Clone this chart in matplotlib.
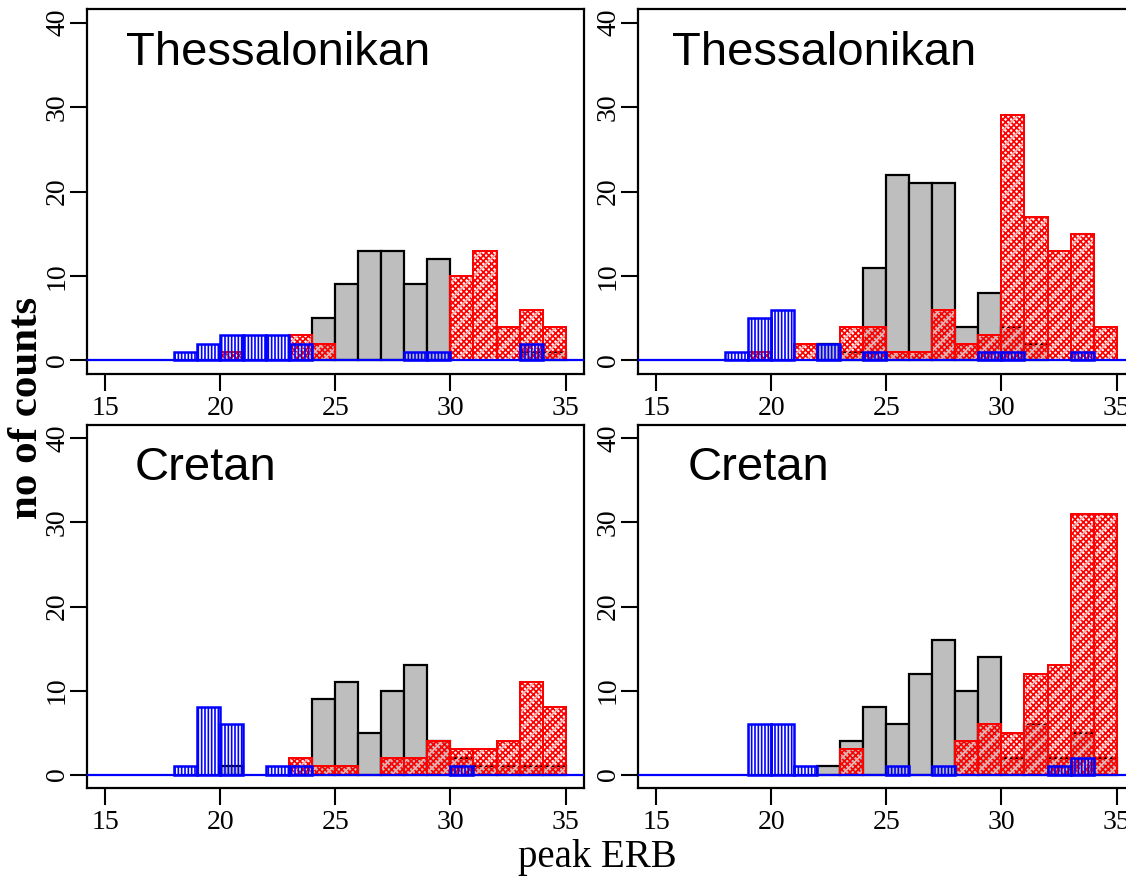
import numpy as np
import matplotlib
matplotlib.use("Agg")
import matplotlib.pyplot as plt

# ---------------- data ----------------
bin_lefts = list(range(18, 35))          # bins 18-19, 19-20, ..., 34-35
x_ticks = [15, 20, 25, 30, 35]
y_ticks = [0, 10, 20, 30, 40]
panel_titles = ["Thessalonikan", "Thessalonikan", "Cretan", "Cretan"]
x_label = "peak ERB"
y_label = "no of counts"

gray_tl = [0, 0, 0, 0, 0, 0, 5, 9, 13, 13, 9, 12, 0, 0, 0, 1, 1]
red_tl  = [0, 0, 1, 0, 0, 3, 2, 0, 0, 0, 0, 0, 10, 13, 4, 6, 4]
blue_tl = [1, 2, 3, 3, 3, 2, 0, 0, 0, 0, 1, 1, 0, 0, 0, 2, 0]

gray_tr = [0, 0, 0, 0, 2, 1, 11, 22, 21, 21, 4, 8, 4, 2, 0, 0, 0]
red_tr  = [0, 1, 0, 2, 0, 4, 4, 1, 1, 6, 2, 3, 29, 17, 13, 15, 4]
blue_tr = [1, 5, 6, 0, 2, 0, 1, 0, 0, 0, 0, 1, 1, 0, 0, 1, 0]

gray_bl = [0, 0, 1, 0, 0, 0, 9, 11, 5, 10, 13, 4, 2, 1, 1, 1, 1]
red_bl  = [0, 0, 0, 0, 0, 2, 1, 1, 0, 2, 2, 4, 3, 3, 4, 11, 8]
blue_bl = [1, 8, 6, 0, 1, 1, 0, 0, 0, 0, 0, 0, 1, 0, 0, 0, 0]

gray_br = [0, 0, 0, 0, 1, 4, 8, 6, 12, 16, 10, 14, 2, 6, 2, 5, 2]
red_br  = [0, 0, 0, 0, 0, 3, 0, 0, 0, 0, 4, 6, 5, 12, 13, 31, 31]
blue_br = [0, 6, 6, 1, 0, 0, 0, 1, 0, 1, 0, 0, 0, 0, 1, 2, 0]

panels = [
    (gray_tl, red_tl, blue_tl),
    (gray_tr, red_tr, blue_tr),
    (gray_bl, red_bl, blue_bl),
    (gray_br, red_br, blue_br),
]

# ---------------- style ----------------
plt.rcParams["hatch.linewidth"] = 1.2
serif = ["Liberation Serif", "DejaVu Serif"]
sans = ["Liberation Sans", "DejaVu Sans"]

W, H = 1126, 877
fig = plt.figure(figsize=(W / 100, H / 100), dpi=100)

def fx(px):
    return px / W

def fy(py):
    return 1 - py / H

# axes rectangles in pixels: (left, top, right, bottom)
rects = [
    (86.7, 9, 584, 374),
    (637.7, 9, 1135, 374),
    (86.7, 425, 584, 788),
    (637.7, 425, 1135, 788),
]
title_pos = [(15.9, 35.0), (15.67, 35.0), (16.3, 35.0), (16.37, 35.0)]


def nz(lefts, vals):
    l = [a for a, v in zip(lefts, vals) if v > 0]
    h = [v for v in vals if v > 0]
    return l, h


for k, ((g, r, b), (l, t, rr, bt)) in enumerate(zip(panels, rects)):
    ax = fig.add_axes([fx(l), fy(bt), fx(rr) - fx(l), fy(t) - fy(bt)])
    ax.set_xlim(14.2, 35.8)
    ax.set_ylim(-1.6, 41.6)

    gl, gh = nz(bin_lefts, g)
    ax.bar(gl, gh, width=1, align="edge", facecolor="#BEBEBE",
           edgecolor="black", linewidth=1.6, zorder=1)

    rl, rh = nz(bin_lefts, r)
    ax.bar(rl, rh, width=1, align="edge", facecolor="none",
           edgecolor="red", hatch="xxxxxx", linewidth=1.4, zorder=2)
    ax.bar(rl, rh, width=1, align="edge", facecolor="none",
           edgecolor=(1, 1, 1, 0.7), hatch="//", linewidth=0, zorder=2.1)
    ax.bar(rl, rh, width=1, align="edge", facecolor="none",
           edgecolor="red", linewidth=1.4, zorder=2.2)

    bl, bh = nz(bin_lefts, b)
    ax.bar(bl, bh, width=1, align="edge", facecolor="none",
           edgecolor="blue", hatch="|||||", linewidth=1.8, zorder=3)

    ax.axhline(0, color="blue", linewidth=1.6, zorder=4)

    ax.set_xticks(x_ticks)
    ax.set_yticks(y_ticks)
    ax.tick_params(axis="both", direction="out", length=12, width=1.5,
                   colors="black", labelsize=20)
    ax.tick_params(axis="x", pad=4)
    ax.tick_params(axis="y", pad=0)
    for lab in ax.get_xticklabels():
        lab.set_fontfamily(serif)
    for lab in ax.get_yticklabels():
        lab.set_fontfamily(serif)
        lab.set_rotation(90)
        lab.set_va("center")
    for s in ax.spines.values():
        s.set_linewidth(1.6)
        s.set_color("black")

    tx, ty = title_pos[k]
    ax.text(tx, ty, panel_titles[k], fontsize=34, family=sans,
            ha="left", va="baseline", zorder=5)

fig.text(fx(27), fy(408), y_label, rotation=90, fontsize=31,
         fontweight="bold", family=serif, ha="center", va="center")
fig.text(fx(597), fy(858), x_label, fontsize=28, family=serif,
         ha="center", va="center")

fig.savefig("out.png", dpi=100)
